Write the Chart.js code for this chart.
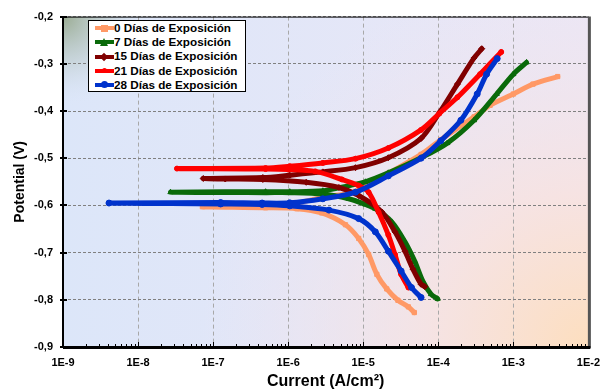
<!DOCTYPE html>
<html><head><meta charset="utf-8">
<script src="https://cdn.jsdelivr.net/npm/chart.js@4.4.0/dist/chart.umd.min.js"></script>
<style>
html,body{margin:0;padding:0;background:#fff;}
#wrap{position:relative;width:609px;height:391px;}
#legend{position:absolute;left:88px;top:20px;width:158px;height:72px;border:1.5px solid #000;background:#fff;font:bold 11.7px "Liberation Sans",Arial,sans-serif;color:#000;box-sizing:border-box;padding-top:0;}
.row{position:relative;height:14.2px;line-height:14.2px;padding-left:25px;white-space:nowrap;}
.ln{position:absolute;left:5.5px;top:5.2px;width:19px;height:4px;}
.mk{position:absolute;}
</style></head>
<body><div id="wrap"><canvas id="c" width="609" height="391"></canvas><div id="legend"></div></div>
<script>
// ---- data (current in A/cm², potential in V) ----
const seriesLabels = ['0 Días de Exposición','7 Días de Exposición','15 Días de Exposición','21 Días de Exposición','28 Días de Exposición'];
const seriesColors = ['#FF9966','#0A6A0A','#800000','#FF0000','#0033CC'];
const seriesMarkers = ['rect','triangle','rectRot','circle','circle'];

const current0 = [4.8e-5,4.0e-5,2.9e-5,2.06e-5,1.52e-5,1.18e-5,8.7e-6,5.8e-6,2.8e-6,1.3e-6,5e-7,7.2e-8,5e-7,1.05e-6,2.9e-6,7.9e-6,2.16e-5,5.9e-5,1.08e-4,3.0e-4,4.9e-4,1.0e-3,1.83e-3,3.9e-3];
const potential0 = [-0.827,-0.815,-0.801,-0.777,-0.746,-0.704,-0.670,-0.641,-0.616,-0.607,-0.605,-0.603,-0.601,-0.598,-0.583,-0.570,-0.532,-0.492,-0.461,-0.4125,-0.388,-0.364,-0.343,-0.327];

const current7 = [9.8e-5,8.0e-5,6.2e-5,4.85e-5,3.6e-5,2.4e-5,1.45e-5,1.07e-5,6.4e-6,2.9e-6,1.05e-6,5e-7,2.7e-8,5e-7,1.05e-6,2.9e-6,6.4e-6,1.07e-5,2.16e-5,5.9e-5,1.32e-4,3.0e-4,6.0e-4,1.0e-3,1.5e-3];
const potential7 = [-0.798,-0.788,-0.760,-0.718,-0.677,-0.635,-0.607,-0.598,-0.586,-0.576,-0.573,-0.573,-0.572,-0.571,-0.571,-0.569,-0.558,-0.550,-0.531,-0.499,-0.468,-0.4196,-0.364,-0.322,-0.297];

const current15 = [6.6e-5,5.9e-5,4.6e-5,3.6e-5,2.65e-5,1.77e-5,8.7e-6,4.75e-6,1.74e-6,4.6e-7,1.45e-7,7.4e-8,4.6e-7,1.05e-6,2.9e-6,7.9e-6,2.16e-5,5.9e-5,1.05e-4,1.8e-4,3.0e-4,3.8e-4];
const potential15 = [-0.772,-0.767,-0.735,-0.697,-0.656,-0.614,-0.579,-0.562,-0.551,-0.545,-0.544,-0.543,-0.541,-0.536,-0.529,-0.520,-0.499,-0.458,-0.402,-0.343,-0.2875,-0.268];

const current21 = [4.0e-5,3.2e-5,2.65e-5,2.16e-5,1.6e-5,1.18e-5,8.7e-6,5.2e-6,2.3e-6,1.0e-6,5.0e-7,3.3e-8,5.0e-7,1.05e-6,2.9e-6,7.9e-6,2.16e-5,5.9e-5,1.03e-4,1.8e-4,3.6e-4,6.9e-4];
const potential21 = [-0.774,-0.746,-0.704,-0.6625,-0.614,-0.572,-0.558,-0.545,-0.528,-0.524,-0.523,-0.522,-0.521,-0.517,-0.510,-0.501,-0.4785,-0.440,-0.4056,-0.371,-0.322,-0.275];

const current28 = [5.9e-5,4.4e-5,3.2e-5,2.16e-5,1.45e-5,8.7e-6,3.5e-6,1.05e-6,4.5e-7,1.26e-7,4.1e-9,1.26e-7,4.5e-7,1.05e-6,2.9e-6,7.9e-6,2.16e-5,5.9e-5,1.08e-4,2.0e-4,3.3e-4,4.4e-4,6.1e-4];
const potential28 = [-0.795,-0.774,-0.739,-0.697,-0.656,-0.628,-0.610,-0.601,-0.598,-0.597,-0.595,-0.594,-0.595,-0.5946,-0.586,-0.572,-0.5375,-0.500,-0.463,-0.4196,-0.364,-0.322,-0.289];

const xTickValues = [1e-9,1e-8,1e-7,1e-6,1e-5,1e-4,1e-3,1e-2];
const yTickValues = [-0.9,-0.8,-0.7,-0.6,-0.5,-0.4,-0.3,-0.2];

const currents = [current0,current7,current15,current21,current28];
const potentials = [potential0,potential7,potential15,potential21,potential28];

const FONT = '"Liberation Sans", Arial, sans-serif';

const datasets = currents.map((cur,i)=>({
  label: seriesLabels[i],
  data: cur.map((c,j)=>({x:c,y:potentials[i][j]})),
  showLine: true,
  borderColor: seriesColors[i],
  backgroundColor: seriesColors[i],
  borderWidth: 5,
  pointRadius: i===3 ? 2.5 : 3,
  pointStyle: seriesMarkers[i],
  pointBorderWidth: 1,
  tension: 0.3,
  borderCapStyle: 'round',
  borderJoinStyle: 'round',
  order: 5 - i
}));

const bgPlugin = {
  id: 'bg',
  beforeDraw(chart){
    const {ctx, chartArea:a} = chart;
    const w = a.right-a.left, h = a.bottom-a.top;
    ctx.save();
    let g = ctx.createLinearGradient(a.left,a.top,a.right,a.top);
    g.addColorStop(0,'#dce6f9'); g.addColorStop(1,'#ebe7f6');
    ctx.fillStyle = g; ctx.fillRect(a.left,a.top,w,h);
    let r = ctx.createRadialGradient(a.right,a.bottom,0,a.right,a.bottom,390);
    r.addColorStop(0,'rgba(253,222,190,1)');
    r.addColorStop(0.4,'rgba(249,226,222,0.8)');
    r.addColorStop(1,'rgba(240,228,240,0)');
    ctx.fillStyle = r; ctx.fillRect(a.left,a.top,w,h);
    let t = ctx.createRadialGradient(a.left,a.top,0,a.left,a.top,90);
    t.addColorStop(0,'rgba(150,168,140,0.95)');
    t.addColorStop(0.5,'rgba(180,196,190,0.5)');
    t.addColorStop(1,'rgba(221,231,248,0)');
    ctx.fillStyle = t; ctx.fillRect(a.left,a.top,w,h);
    ctx.restore();
  },
  afterDraw(chart){
    const {ctx, chartArea:a, scales:{x,y}} = chart;
    ctx.save();
    ctx.strokeStyle = '#000'; ctx.lineWidth = 1;
    ctx.beginPath(); ctx.moveTo(a.left,a.top+0.5); ctx.lineTo(a.right,a.top+0.5); ctx.stroke();
    ctx.lineWidth = 2;
    ctx.beginPath(); ctx.moveTo(a.left,a.top); ctx.lineTo(a.left,a.bottom); ctx.stroke();
    ctx.strokeStyle = '#555'; ctx.lineWidth = 3;
    ctx.beginPath(); ctx.moveTo(a.right+1,a.top); ctx.lineTo(a.right+1,a.bottom+1); ctx.stroke();
    ctx.strokeStyle = '#000'; ctx.lineWidth = 3;
    ctx.beginPath(); ctx.moveTo(a.left,a.bottom+0.5); ctx.lineTo(a.right+2,a.bottom+0.5); ctx.stroke();
    ctx.lineWidth = 2;
    yTickValues.forEach(v=>{
      const py = Math.round(y.getPixelForValue(v));
      ctx.beginPath(); ctx.moveTo(a.left-3,py); ctx.lineTo(a.left+4,py); ctx.stroke();
    });
    ctx.lineWidth = 1;
    for(let e=-9;e<-2;e++){
      for(let m=1;m<10;m++){
        const px = Math.round(x.getPixelForValue(m*Math.pow(10,e)))+0.5;
        const len = m===1?5:3;
        ctx.beginPath(); ctx.moveTo(px,a.bottom); ctx.lineTo(px,a.bottom-len); ctx.stroke();
      }
    }
    ctx.restore();
  }
};

new Chart(document.getElementById('c'), {
  type: 'scatter',
  data: { datasets },
  options: {
    responsive: false,
    animation: false,
    devicePixelRatio: 1,
    layout: { padding: {left:0, right:13, top:11, bottom:0} },
    plugins: { legend: {display:false}, tooltip: {enabled:false} },
    scales: {
      x: {
        type: 'logarithmic', min: 1e-9, max: 1e-2,
        afterBuildTicks(s){ s.ticks = xTickValues.map(v=>({value:v})); },
        afterFit(s){ s.height = 44; },
        ticks: { autoSkip:false, maxRotation:0, padding: 9, color:'#000',
          font:{family:FONT, size:11, weight:'bold'},
          callback(v){ return '1E' + Math.round(Math.log10(v)); } },
        grid: { color:'#a8a8a8', lineWidth:1, drawTicks:false },
        border: { display:false, dash:[4,3] },
        title: { display:true, text:'Current (A/cm²)', color:'#000',
          font:{family:FONT, size:16, weight:'bold'}, padding:{top:0,bottom:0} }
      },
      y: {
        min: -0.9, max: -0.2,
        afterBuildTicks(s){ s.ticks = yTickValues.map(v=>({value:v})); },
        afterFit(s){ s.width = 63; },
        ticks: { padding: 10, color:'#000',
          font:{family:FONT, size:11, weight:'bold'},
          callback(v){ return v.toFixed(1).replace('.',','); } },
        grid: { color:'#808080', lineWidth:1, drawTicks:false },
        border: { display:false, dash:[3,2] },
        title: { display:true, text:'Potential (V)', color:'#000',
          font:{family:FONT, size:14, weight:'bold'}, padding:{top:12,bottom:0} }
      }
    }
  },
  plugins: [bgPlugin]
});

// ---- legend (HTML) ----
const leg = document.getElementById('legend');
seriesLabels.forEach((lab,i)=>{
  const row = document.createElement('div'); row.className='row';
  const ln = document.createElement('span'); ln.className='ln'; ln.style.background = seriesColors[i];
  row.appendChild(ln);
  const mk = document.createElement('span'); mk.className='mk';
  const c = seriesColors[i];
  const cx = 15;
  if(seriesMarkers[i]==='rect'){ Object.assign(mk.style,{left:(cx-3.5)+'px',top:'3.7px',width:'7px',height:'7px',background:c}); }
  else if(seriesMarkers[i]==='triangle'){ Object.assign(mk.style,{left:(cx-4)+'px',top:'2.7px',width:'0',height:'0',borderLeft:'4px solid transparent',borderRight:'4px solid transparent',borderBottom:'8px solid '+c}); }
  else if(seriesMarkers[i]==='rectRot'){ Object.assign(mk.style,{left:(cx-3)+'px',top:'4.2px',width:'6px',height:'6px',background:c,transform:'rotate(45deg)'}); }
  else { const d = i===3?5:7; Object.assign(mk.style,{left:(cx-d/2)+'px',top:(7.2-d/2)+'px',width:d+'px',height:d+'px',background:c,borderRadius:'50%'}); }
  row.appendChild(mk);
  row.appendChild(document.createTextNode(lab));
  leg.appendChild(row);
});
</script>
</body></html>
